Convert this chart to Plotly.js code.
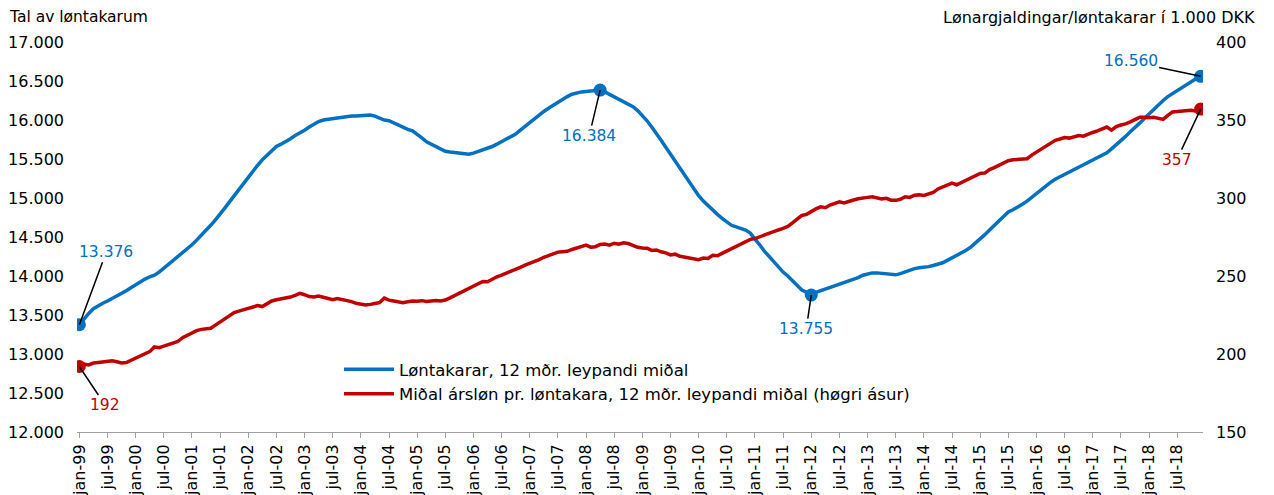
<!DOCTYPE html>
<html>
<head>
<meta charset="utf-8">
<script src="https://cdn.plot.ly/plotly-3.0.1.min.js"></script>
<style>html,body{margin:0;padding:0;background:#fff;}#chart{width:1274px;height:495px;}</style>
</head>
<body>
<div id="chart"></div>
<script>
// Tick labels (every 6 months, jan-99 .. jul-18)
var tickLabels = ['jan-99','jul-99','jan-00','jul-00','jan-01','jul-01','jan-02','jul-02','jan-03','jul-03',
  'jan-04','jul-04','jan-05','jul-05','jan-06','jul-06','jan-07','jul-07','jan-08','jul-08',
  'jan-09','jul-09','jan-10','jul-10','jan-11','jul-11','jan-12','jul-12','jan-13','jul-13',
  'jan-14','jul-14','jan-15','jul-15','jan-16','jul-16','jan-17','jul-17','jan-18','jul-18'];

// Løntakarar, 12 mðr. leypandi miðal (monthly, jan-99 .. dec-18)
var employees = [
13376,13450,13520,13580,13620,13650,13680,13710,13740,13770,13810,13850,
13890,13925,13960,13990,14010,14050,14100,14150,14200,14250,14300,14340,
14400,14460,14520,14590,14650,14720,14790,14870,14950,15030,15110,15190,
15270,15350,15420,15490,15550,15610,15660,15690,15720,15760,15800,15830,
15870,15910,15950,15980,16000,16010,16020,16030,16040,16050,16050,16050,
16055,16060,16065,16050,16020,16000,15990,15960,15930,15900,15880,15860,
15820,15770,15720,15690,15660,15630,15600,15590,15585,15575,15565,15560,
15575,15595,15620,15640,15660,15690,15720,15750,15780,15820,15870,15920,
15970,16010,16060,16110,16150,16190,16230,16265,16300,16330,16350,16360,
16365,16370,16375,16384,16360,16330,16300,16270,16240,16210,16170,16120,
16060,15990,15910,15830,15740,15650,15560,15470,15380,15290,15200,15110,
15030,14960,14900,14840,14790,14740,14690,14650,14630,14610,14590,14550,
14480,14400,14320,14250,14180,14110,14050,14000,13940,13880,13820,13790,
13755,13790,13810,13840,13860,13880,13900,13915,13930,13950,13980,14010,
14030,14040,14040,14035,14030,14020,14015,14030,14050,14080,14095,14105,
14110,14120,14135,14150,14170,14200,14230,14260,14290,14330,14370,14420,
14470,14530,14590,14650,14710,14770,14820,14850,14880,14920,14960,15010,
15060,15110,15160,15200,15240,15270,15300,15330,15370,15400,15430,15460,
15490,15520,15550,15580,15630,15680,15740,15790,15850,15900,15960,16020,
16080,16140,16200,16250,16300,16340,16380,16420,16460,16500,16530,16560];

// Miðal ársløn pr. løntakara, 1.000 DKK (monthly, jan-99 .. dec-18)
var wage = [
192.0,193.5,193.0,194.2,194.5,195.0,195.3,195.6,195.0,194.2,194.5,196.0,
197.5,198.8,200.0,201.5,204.5,204.0,205.0,206.0,207.0,208.0,210.5,212.0,
213.5,215.0,215.8,216.2,216.5,218.5,220.5,222.5,224.8,226.5,227.5,228.3,
229.2,230.0,231.0,230.4,232.5,234.0,234.8,235.3,235.8,236.5,237.6,238.9,
238.0,236.8,236.5,237.2,236.4,235.5,234.8,235.6,235.0,234.6,233.6,232.5,
232.0,231.4,231.8,232.2,233.0,235.8,234.5,234.0,233.2,232.9,233.5,234.0,
233.8,234.2,233.6,233.9,234.3,234.0,234.6,236.0,237.5,238.5,240.0,241.8,
243.0,244.6,246.5,246.3,248.0,249.5,250.6,251.7,253.2,254.0,255.5,257.0,
258.1,259.0,260.5,262.0,263.2,264.0,265.3,265.6,265.8,267.0,268.0,269.0,
269.8,268.5,268.8,270.2,270.5,269.8,271.0,270.4,271.3,270.8,269.6,268.4,
268.0,267.8,266.4,266.7,265.5,264.8,263.5,264.0,262.6,262.0,261.5,260.8,
260.5,261.5,261.2,263.3,263.0,264.5,266.0,267.5,269.5,271.0,272.0,273.5,
274.0,275.2,276.5,277.6,278.6,279.5,280.5,281.8,284.0,286.5,288.8,289.5,
291.5,293.0,294.3,293.8,295.5,296.5,297.6,296.8,298.0,298.7,299.5,300.2,
300.4,300.8,300.2,299.4,299.8,298.6,298.5,299.2,300.8,300.4,301.8,302.0,
301.6,302.4,303.5,305.8,307.0,308.6,309.6,308.5,310.0,311.8,313.0,314.5,
315.8,316.0,318.2,319.5,321.0,322.5,323.9,324.5,324.8,325.0,325.2,327.5,
329.5,331.0,333.0,335.5,337.0,337.8,338.8,338.4,339.3,340.0,339.6,341.0,
342.0,343.0,344.2,345.5,343.5,345.8,346.8,347.5,348.8,350.0,351.7,351.8,
351.5,351.8,351.2,350.4,353.0,355.2,355.4,355.6,356.0,356.2,355.7,357.0];

// Highlighted points (month index)
var empMarks = [0, 111, 156, 239];
var wageMarks = [0, 239];

var seriesNames = ['Løntakarar, 12 mðr. leypandi miðal',
                   'Miðal ársløn pr. løntakara, 12 mðr. leypandi miðal (høgri ásur)'];

var BLUE = '#0070C0', RED = '#C00000';
var FONT = 'DejaVu Sans, Verdana, sans-serif';

var xIdx = employees.map(function(_, i){ return i; });
var tickVals = tickLabels.map(function(_, i){ return i * 6; });

function fmt(v){ return String(Math.round(v)).replace(/\B(?=(\d{3})+(?!\d))/g, '.'); }

var traces = [
  {x: xIdx, y: employees, type: 'scatter', mode: 'lines', name: seriesNames[0],
   line: {color: BLUE, width: 3.5}, yaxis: 'y'},
  {x: xIdx, y: wage, type: 'scatter', mode: 'lines', name: seriesNames[1],
   line: {color: RED, width: 3.5}, yaxis: 'y2'},
  {x: empMarks, y: empMarks.map(function(i){ return employees[i]; }), type: 'scatter', mode: 'markers',
   marker: {color: BLUE, size: 13}, showlegend: false, yaxis: 'y', hoverinfo: 'skip'},
  {x: wageMarks, y: wageMarks.map(function(i){ return wage[i]; }), type: 'scatter', mode: 'markers',
   marker: {color: RED, size: 13}, showlegend: false, yaxis: 'y2', hoverinfo: 'skip'}
];

function ann(i, arr, yref, color, ax, ay){
  return {x: i, y: arr[i], xref: 'x', yref: yref, text: fmt(arr[i]), showarrow: true,
    arrowhead: 0, arrowwidth: 1.5, arrowcolor: '#000', ax: ax, ay: ay, standoff: 0,
    font: {family: FONT, size: 15.5, color: color}};
}

var annotations = [
  ann(0, employees, 'y', BLUE, 27, -73),
  ann(111, employees, 'y', BLUE, -11, 46),
  ann(156, employees, 'y', BLUE, -5, 34),
  ann(239, employees, 'y', BLUE, -70, -15),
  ann(0, wage, 'y2', RED, 26, 39),
  ann(239, wage, 'y2', RED, -24, 51),
  {text: 'Tal av løntakarum', xref: 'paper', yref: 'paper', x: -0.0622, y: 1.064,
   xanchor: 'left', yanchor: 'middle', showarrow: false, font: {family: FONT, size: 15.5, color: '#000'}},
  {text: 'Lønargjaldingar/løntakarar í 1.000 DKK', xref: 'paper', yref: 'paper', x: 1.048, y: 1.064,
   xanchor: 'right', yanchor: 'middle', showarrow: false, font: {family: FONT, size: 16, color: '#000'}}
];

var layout = {
  width: 1274, height: 495,
  margin: {l: 77, r: 71, t: 42, b: 63},
  paper_bgcolor: '#fff', plot_bgcolor: '#fff',
  separators: ',.',
  font: {family: FONT, size: 15.5, color: '#000'},
  showlegend: true,
  legend: {x: 0.2327, y: 0.205, xanchor: 'left', yanchor: 'top', bgcolor: 'rgba(0,0,0,0)',
           font: {family: FONT, size: 16.5, color: '#000'}, itemwidth: 50, tracegroupgap: 0},
  xaxis: {range: [-0.5, 239.5], tickmode: 'array', tickvals: tickVals, ticktext: tickLabels,
          tickangle: -90, ticks: 'outside', ticklen: 5, tickcolor: '#A0A0A0', showgrid: false,
          zeroline: false, showline: true, linecolor: '#A0A0A0', linewidth: 1,
          tickfont: {family: FONT, size: 16, color: '#000'}, fixedrange: true},
  yaxis: {range: [12000, 17000], dtick: 500, tick0: 12000, tickformat: ',d', showgrid: false,
          zeroline: false, showline: false, ticks: '', ticklabelstandoff: 12,
          tickfont: {family: FONT, size: 16, color: '#000'}},
  yaxis2: {range: [150, 400], dtick: 50, tick0: 150, overlaying: 'y', side: 'right', showgrid: false,
           zeroline: false, showline: false, ticks: '', ticklabelstandoff: 12,
           tickfont: {family: FONT, size: 16, color: '#000'}},
  annotations: annotations
};

Plotly.newPlot('chart', traces, layout, {displayModeBar: false, staticPlot: true});
</script>
</body>
</html>
